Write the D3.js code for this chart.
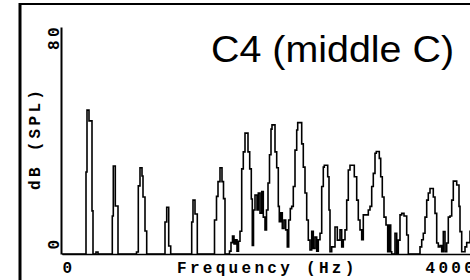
<!DOCTYPE html>
<html>
<head>
<meta charset="utf-8">
<script src="https://cdn.jsdelivr.net/npm/d3@7"></script>
<style>
  html, body { margin: 0; padding: 0; background: #fff; }
  svg { display: block; }
  .pix { font-family: "Liberation Mono", monospace; font-weight: bold; font-size: 16px; letter-spacing: 3.3px; fill: #000; }
</style>
</head>
<body>
<svg id="chart" width="470" height="280"></svg>
<script>
// spectrum of C4 (step breakpoints: frequency in Hz, level in dB SPL)
const freqHz = [
  0, 240, 250, 270, 300, 310, 340, 360,
  503, 513, 533, 560,
  745, 763, 780, 800, 810, 830, 847,
  1030, 1047, 1067, 1087,
  1297, 1310, 1330, 1353,
  1525, 1545, 1560, 1580, 1600, 1615, 1630,
  1675, 1690, 1705, 1720, 1735, 1750, 1765, 1780,
  1797, 1813, 1830, 1860, 1877, 1893, 1903, 1915, 1930, 1950, 1963, 1980, 1997, 2013, 2030,
  2045, 2060, 2075, 2090, 2100, 2130, 2147, 2163, 2173, 2187, 2203, 2220, 2237, 2253, 2267, 2283,
  2297, 2313, 2330, 2347, 2357, 2397, 2413, 2430, 2447, 2463, 2480,
  2497, 2513, 2530, 2547, 2563,
  2580, 2597, 2613, 2623, 2657, 2670, 2680, 2697, 2730, 2753, 2780, 2797, 2813,
  2830, 2847, 2863, 2880, 2923, 2947, 2963, 2980, 2997,
  3013, 3063, 3080, 3097, 3113, 3130, 3143, 3173, 3187, 3203, 3220, 3240, 3257, 3273, 3287, 3297,
  3330, 3347, 3363, 3380, 3397, 3420, 3447, 3463,
  3580, 3597, 3613, 3630, 3647, 3663, 3680, 3713, 3730, 3747, 3763, 3780, 3797, 3813, 3830, 3847,
  3863, 3880, 3897, 3913, 3947, 3970, 3980, 3997, 4030, 4047, 4080, 4100
];
const levelDb = [
  0, 28.9, 50.7, 46.9, 15.2, 0, 0.7, 0,
  13.4, 31.0, 16.9, 0,
  0.7, 24.0, 30.4, 27.5, 20.1, 8.1, 0,
  11.3, 16.5, 2.8, 0,
  11.3, 19.0, 14.1, 0,
  12, 20.3, 25.5, 30.4, 25.5, 19.5, 0,
  1, 4, 6.3, 3.5, 5, 1, 4.5, 8,
  30, 36, 42.6, 36, 30, 19.4, 3, 15.5, 20.8, 15.5, 21.5, 14.4, 22, 13, 8.5,
  15.5, 25, 35, 44, 45.5, 36, 30.4, 16.8, 11.4, 14.5, 9, 12, 8.5, 2.5, 12, 16,
  16.8, 23.8, 36.6, 43.7, 46.3, 38.8, 30.6, 21.5, 12, 4.9, 1.4,
  8, 2, 6, 1, 5,
  7.3, 23.8, 30.6, 31.3, 27.2, 15.5, 0.8, 2.5, 9.5, 4.9, 8.5, 2.5, 5,
  8.5, 19, 29.6, 31.3, 27.2, 19, 12, 8.5, 5,
  13.8, 15.5, 16.8, 23.8, 28.4, 35.5, 36.1, 33.7, 27.2, 20.1, 13, 10.2, 0.8, 10.2, 0.8, 0,
  7.3, 0, 4.9, 13.8, 14.3, 13.4, 6.7, 0,
  2.5, 5, 7.3, 13, 19, 21.5, 23.1, 20.1, 14.3, 3.9, 2.5, 3, 0.8, 7.9, 0.8, 3.9,
  13, 13.4, 19, 25.7, 24.3, 16.8, 7.9, 0.8, 2.5, 4, 8, 8
];
const xTicks = [0, 4000];
const yTicks = [0, 80];
const xLabel = "Frequency (Hz)";
const yLabel = "dB (SPL)";
const title = "C4 (middle C)";

const svg = d3.select("#chart");

const x = d3.scaleLinear().domain([0, 4100]).range([62, 472]);
const y = d3.scaleLinear().domain([0, 80]).range([254, 27]);

// outer frame (only top and left edges fall inside the window)
svg.append("line").attr("x1", 20).attr("x2", 470).attr("y1", 4).attr("y2", 4)
  .attr("stroke", "#000").attr("stroke-width", 2);
svg.append("line").attr("x1", 20).attr("x2", 20).attr("y1", 3).attr("y2", 280)
  .attr("stroke", "#000").attr("stroke-width", 3);

// spectrum trace
const pts = freqHz.map((f, i) => [f, levelDb[i]]);
const line = d3.line()
  .curve(d3.curveStepAfter)
  .x(d => x(d[0]))
  .y(d => y(d[1]));
svg.append("path")
  .datum(pts)
  .attr("d", line)
  .attr("fill", "none")
  .attr("stroke", "#000")
  .attr("stroke-width", 1.6)
  .attr("stroke-linejoin", "miter");

// y axis
const gy = svg.append("g")
  .attr("transform", "translate(61,0)")
  .call(d3.axisLeft(y).tickValues(yTicks).tickSize(0).tickSizeOuter(0).tickFormat(d3.format("d")));
gy.select(".domain").attr("stroke", "#000").attr("stroke-width", 2);
gy.selectAll(".tick text")
  .attr("class", "pix")
  .attr("x", d => d === 0 ? 5 : 3.3)
  .attr("y", 0)
  .attr("dy", null)
  .attr("text-anchor", d => d === 0 ? "start" : "end")
  .attr("transform", "translate(-2.5,0) rotate(-90)");
gy.attr("font-family", null).attr("font-size", null);

// x axis
const gx = svg.append("g")
  .attr("transform", "translate(0,254)")
  .call(d3.axisBottom(x).tickValues(xTicks).tickSize(0).tickSizeOuter(0).tickFormat(d3.format("d")));
gx.select(".domain").attr("stroke", "#000").attr("stroke-width", 1.5);
gx.selectAll(".tick text")
  .attr("class", "pix")
  .attr("y", 19)
  .attr("dy", null)
  .attr("x", d => d === 0 ? 0 : -37)
  .attr("text-anchor", "start");
gx.attr("font-family", null).attr("font-size", null);

// axis titles
svg.append("text").attr("class", "pix")
  .attr("x", 177).attr("y", 273)
  .text(xLabel);
svg.append("text").attr("class", "pix")
  .attr("transform", "translate(39.5,190) rotate(-90)")
  .text(yLabel);

// title
svg.append("text")
  .attr("x", 211).attr("y", 62)
  .attr("font-family", "'Liberation Sans', Arial, sans-serif")
  .attr("font-size", 37)
  .attr("textLength", 243)
  .attr("lengthAdjust", "spacingAndGlyphs")
  .attr("fill", "#000")
  .text(title);
</script>
</body>
</html>
